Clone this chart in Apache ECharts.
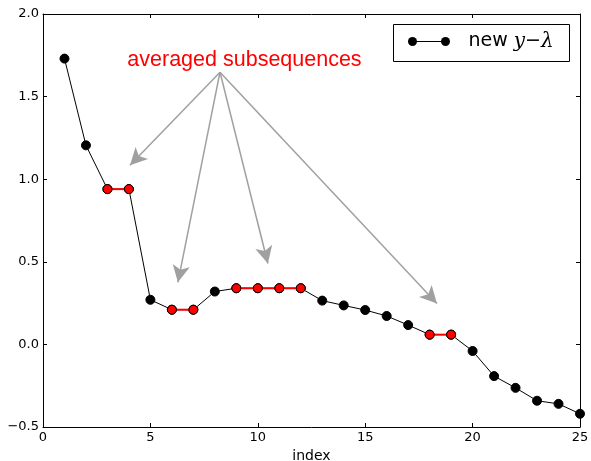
<!DOCTYPE html>
<html>
<head>
<meta charset="utf-8">
<script src="https://cdn.jsdelivr.net/npm/echarts@6/dist/echarts.min.js"></script>
<style>
  html, body { margin: 0; padding: 0; background: #fff; }
  #chart { width: 591px; height: 461px; }
</style>
</head>
<body>
<div id="chart"></div>
<script>
// index positions of the sequence
const indices = [1, 2, 3, 4, 5, 6, 7, 8, 9, 10, 11, 12, 13, 14, 15, 16, 17, 18, 19, 20, 21, 22, 23, 24, 25];
// new y-lambda values
const values = [1.73, 1.205, 0.94, 0.94, 0.27, 0.21, 0.21, 0.32, 0.34, 0.34, 0.34, 0.34, 0.265, 0.236, 0.208, 0.172, 0.117, 0.059, 0.059, -0.04, -0.192, -0.263, -0.341, -0.36, -0.42];
// runs of equal (averaged) values, as [first index, last index]
const averagedRuns = [[3, 4], [6, 7], [9, 12], [18, 19]];
// annotation: arrow origin and arrow targets in data coordinates
const annotationOrigin = [8.24, 1.648];
const annotationTargets = [[4.05, 1.085], [6.28, 0.376], [10.47, 0.49], [18.34, 0.248]];
const annotationText = 'averaged subsequences';
// axis ticks
const xTicks = [0, 5, 10, 15, 20, 25];
const yTicks = [-0.5, 0.0, 0.5, 1.0, 1.5, 2.0];

const font = 'DejaVu Sans';
const points = indices.map((x, i) => [x, values[i]]);

const runSeries = averagedRuns.map(([a, b]) => ({
  type: 'line',
  data: points.filter(p => p[0] >= a && p[0] <= b),
  symbol: 'circle',
  symbolSize: 9,
  lineStyle: { color: '#ff0000', width: 2 },
  itemStyle: { color: '#ff0000', borderColor: '#000', borderWidth: 1 },
  z: 5,
  silent: true
}));

const chart = echarts.init(document.getElementById('chart'), null, { renderer: 'canvas' });

// shared axis look: a plain frame with short inward ticks
const axisCommon = () => ({
  type: 'value',
  axisLine: { show: true, onZero: false, lineStyle: { color: '#000', width: 1 } },
  axisTick: { show: true, inside: true, length: 4, lineStyle: { color: '#000' } },
  splitLine: { show: false }
});

chart.setOption({
  animation: false,
  backgroundColor: '#fff',
  grid: { left: 43, right: 11, top: 14, bottom: 34, containLabel: false, outerBoundsMode: 'none' },
  xAxis: [
    Object.assign(axisCommon(), {
      min: 0, max: 25, interval: 5, position: 'bottom',
      name: 'index', nameLocation: 'middle', nameGap: 20,
      nameTextStyle: { fontFamily: font, fontSize: 14, color: '#000' },
      axisLabel: { fontFamily: font, fontSize: 13, color: '#000', margin: 4,
        formatter: v => xTicks.includes(v) ? String(v) : '' }
    }),
    Object.assign(axisCommon(), {
      min: 0, max: 25, interval: 5, position: 'top',
      axisLabel: { show: false }
    })
  ],
  yAxis: [
    Object.assign(axisCommon(), {
      min: -0.5, max: 2.0, interval: 0.5, position: 'left',
      axisLabel: { fontFamily: font, fontSize: 13, color: '#000', margin: 4,
        formatter: v => (yTicks.includes(v) ? v.toFixed(1).replace('-', '\u2212') : '') }
    }),
    Object.assign(axisCommon(), {
      min: -0.5, max: 2.0, interval: 0.5, position: 'right',
      axisLabel: { show: false }
    })
  ],
  series: [
    {
      type: 'line',
      name: 'new y-lambda',
      data: points,
      symbol: 'circle',
      symbolSize: 9,
      lineStyle: { color: '#000', width: 1 },
      itemStyle: { color: '#000', borderColor: '#000', borderWidth: 1 },
      z: 3,
      silent: true,
      markLine: {
        silent: true,
        symbol: ['none', 'arrow'],
        symbolSize: [13, 17],
        label: { show: false },
        lineStyle: { color: '#a0a0a0', width: 1.5, type: 'solid' },
        data: annotationTargets.map(t => [
          { coord: annotationOrigin },
          { coord: t }
        ])
      },
      markPoint: {
        silent: true,
        symbol: 'circle',
        symbolSize: 1,
        itemStyle: { color: 'rgba(0,0,0,0)' },
        label: {
          show: true, position: 'top', distance: 1,
          formatter: annotationText,
          fontFamily: 'Liberation Sans', fontSize: 21.5, color: '#ff0000'
        },
        data: [{ coord: [annotationOrigin[0] + 1.14, annotationOrigin[1]] }]
      }
    }
  ].concat(runSeries),
  graphic: [
    {
      type: 'group', left: 393, top: 24,
      children: [
        { type: 'rect', shape: { x: 0, y: 0, width: 176, height: 37 },
          style: { fill: '#fff', stroke: '#000', lineWidth: 1 } },
        { type: 'line', shape: { x1: 19, y1: 17, x2: 52, y2: 17 },
          style: { stroke: '#000', lineWidth: 1 } },
        { type: 'circle', shape: { cx: 19, cy: 17, r: 4.5 }, style: { fill: '#000' } },
        { type: 'circle', shape: { cx: 52, cy: 17, r: 4.5 }, style: { fill: '#000' } },
        { type: 'text', x: 75, y: 17,
          style: {
            text: 'new {m|y}\u2212{m|\u03bb}',
            fontFamily: font, fontSize: 19, fill: '#000', verticalAlign: 'middle',
            rich: { m: { fontFamily: 'DejaVu Serif', fontSize: 20, fontStyle: 'italic', fill: '#000' } }
          } }
      ]
    }
  ]
});
</script>
</body>
</html>
